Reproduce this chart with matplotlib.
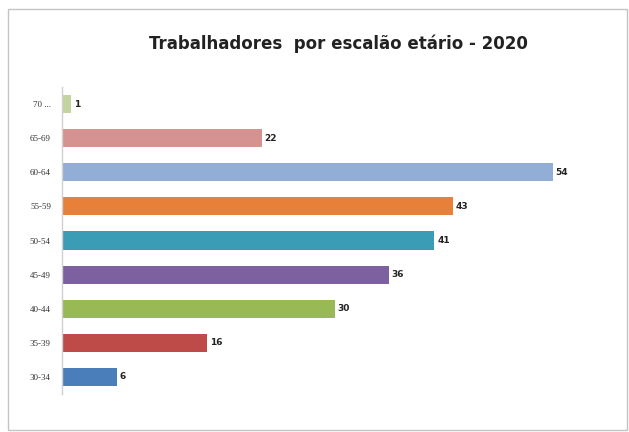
import matplotlib
matplotlib.use("Agg")
import matplotlib.pyplot as plt
from matplotlib.patches import Rectangle

# Workers by age bracket, 2020
age_groups = ["30-34", "35-39", "40-44", "45-49", "50-54", "55-59", "60-64", "65-69", "70 ..."]
workers = [6, 16, 30, 36, 41, 43, 54, 22, 1]
colors = ["#4a7ebb", "#be4b48", "#98b954", "#7d60a0", "#3a9db5", "#e8803a",
          "#92aed6", "#d59290", "#c3d49e"]

fig = plt.figure(figsize=(6.29, 4.32), dpi=100)
fig.patch.set_facecolor("white")

# chart frame
fig.patches.append(Rectangle((8 / 629, 2 / 432), 619 / 629, 421 / 432,
                             transform=fig.transFigure, fill=False,
                             edgecolor="#c4c4c4", linewidth=1.0))

ax = fig.add_axes([62 / 629, 1 - 394 / 432, 545 / 629, 307 / 432])
y = range(len(age_groups))
bars = ax.barh(y, workers, height=0.53, color=colors, edgecolor="none")

for b, v in zip(bars, workers):
    ax.text(b.get_width() + 0.3, b.get_y() + b.get_height() / 2, str(v),
            va="center", ha="left", fontsize=6.5, fontweight="bold", color="#222222")

ax.set_xlim(0, 60)
ax.set_ylim(-0.5, len(age_groups) - 0.5)
ax.set_yticks(list(y))
ax.set_yticklabels(age_groups, fontsize=6.5, family="Liberation Serif", color="#333333")
ax.tick_params(axis="y", length=0, pad=8)
ax.set_xticks([])
for s in ["top", "right", "bottom"]:
    ax.spines[s].set_visible(False)
ax.spines["left"].set_color("#d0d0d0")
ax.spines["left"].set_linewidth(1.0)

fig.text(338 / 629, 1 - 44 / 432, "Trabalhadores  por escalão etário - 2020",
         ha="center", va="center", fontsize=12, fontweight="bold", color="#222222")

fig.savefig("out.png", dpi=100)
